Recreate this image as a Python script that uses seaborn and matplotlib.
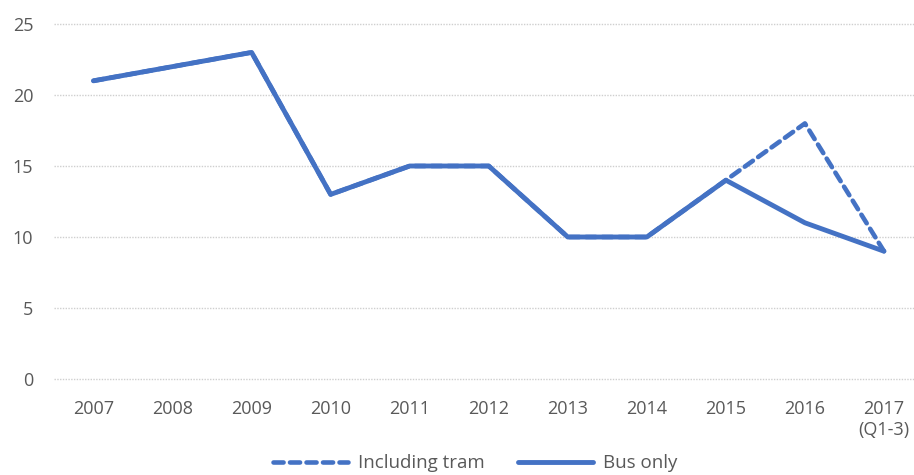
import numpy as np
import pandas as pd
import matplotlib
matplotlib.use("Agg")
import matplotlib.pyplot as plt
import seaborn as sns

# Dados do gráfico
anos = ['2007', '2008', '2009', '2010', '2011', '2012', '2013', '2014', '2015', '2016', '2017\n(Q1-3)']
so_onibus = [21, 22, 23, 13, 15, 15, 10, 10, 14, 11, 9]
com_bonde = [21, 22, 23, 13, 15, 15, 10, 10, 14, 18, 9]

sns.set_style("white")
plt.rcParams['font.family'] = ['Open Sans', 'DejaVu Sans']

azul = '#4472C4'
cinza = '#595959'

df = pd.DataFrame({'pos': np.arange(len(anos)), 'Including tram': com_bonde, 'Bus only': so_onibus})

fig = plt.figure(figsize=(9.14, 4.75), dpi=100)
ax = fig.add_axes([54 / 914, 1 - 379 / 475, 1 - 54 / 914, 355 / 475])

sns.lineplot(data=df, x='pos', y='Including tram', ax=ax, color=azul, linewidth=3.3,
             label='Including tram', linestyle=(0, (2.2, 1.4)), dash_capstyle='round')
sns.lineplot(data=df, x='pos', y='Bus only', ax=ax, color=azul, linewidth=3.5,
             label='Bus only', solid_capstyle='round', solid_joinstyle='round')

ax.set_ylim(0, 25)
ax.set_xlim(-0.5, 10.38)
ax.set_yticks([0, 5, 10, 15, 20, 25])
ax.set_xticks(np.arange(len(anos)))
ax.set_xticklabels(anos)
ax.set_xlabel('')
ax.set_ylabel('')
ax.grid(axis='y', color='#cfcfcf', linestyle=(0, (1, 1)), linewidth=1)
for g in ax.get_ygridlines():
    g.set_clip_on(False)
ax.set_axisbelow(True)
for s in ax.spines.values():
    s.set_visible(False)
ax.tick_params(axis='both', length=0, colors=cinza, labelsize=13)
ax.tick_params(axis='y', pad=15)
ax.tick_params(axis='x', pad=15)

ax.get_legend().remove()
h, l = ax.get_legend_handles_labels()
fig.legend(h, l, loc='lower center', bbox_to_anchor=(0.52, -0.03), ncol=2, frameon=False,
           fontsize=13.5, labelcolor=cinza, handlelength=4, columnspacing=1.8, handletextpad=0.5)

fig.savefig('out.png', dpi=100)
